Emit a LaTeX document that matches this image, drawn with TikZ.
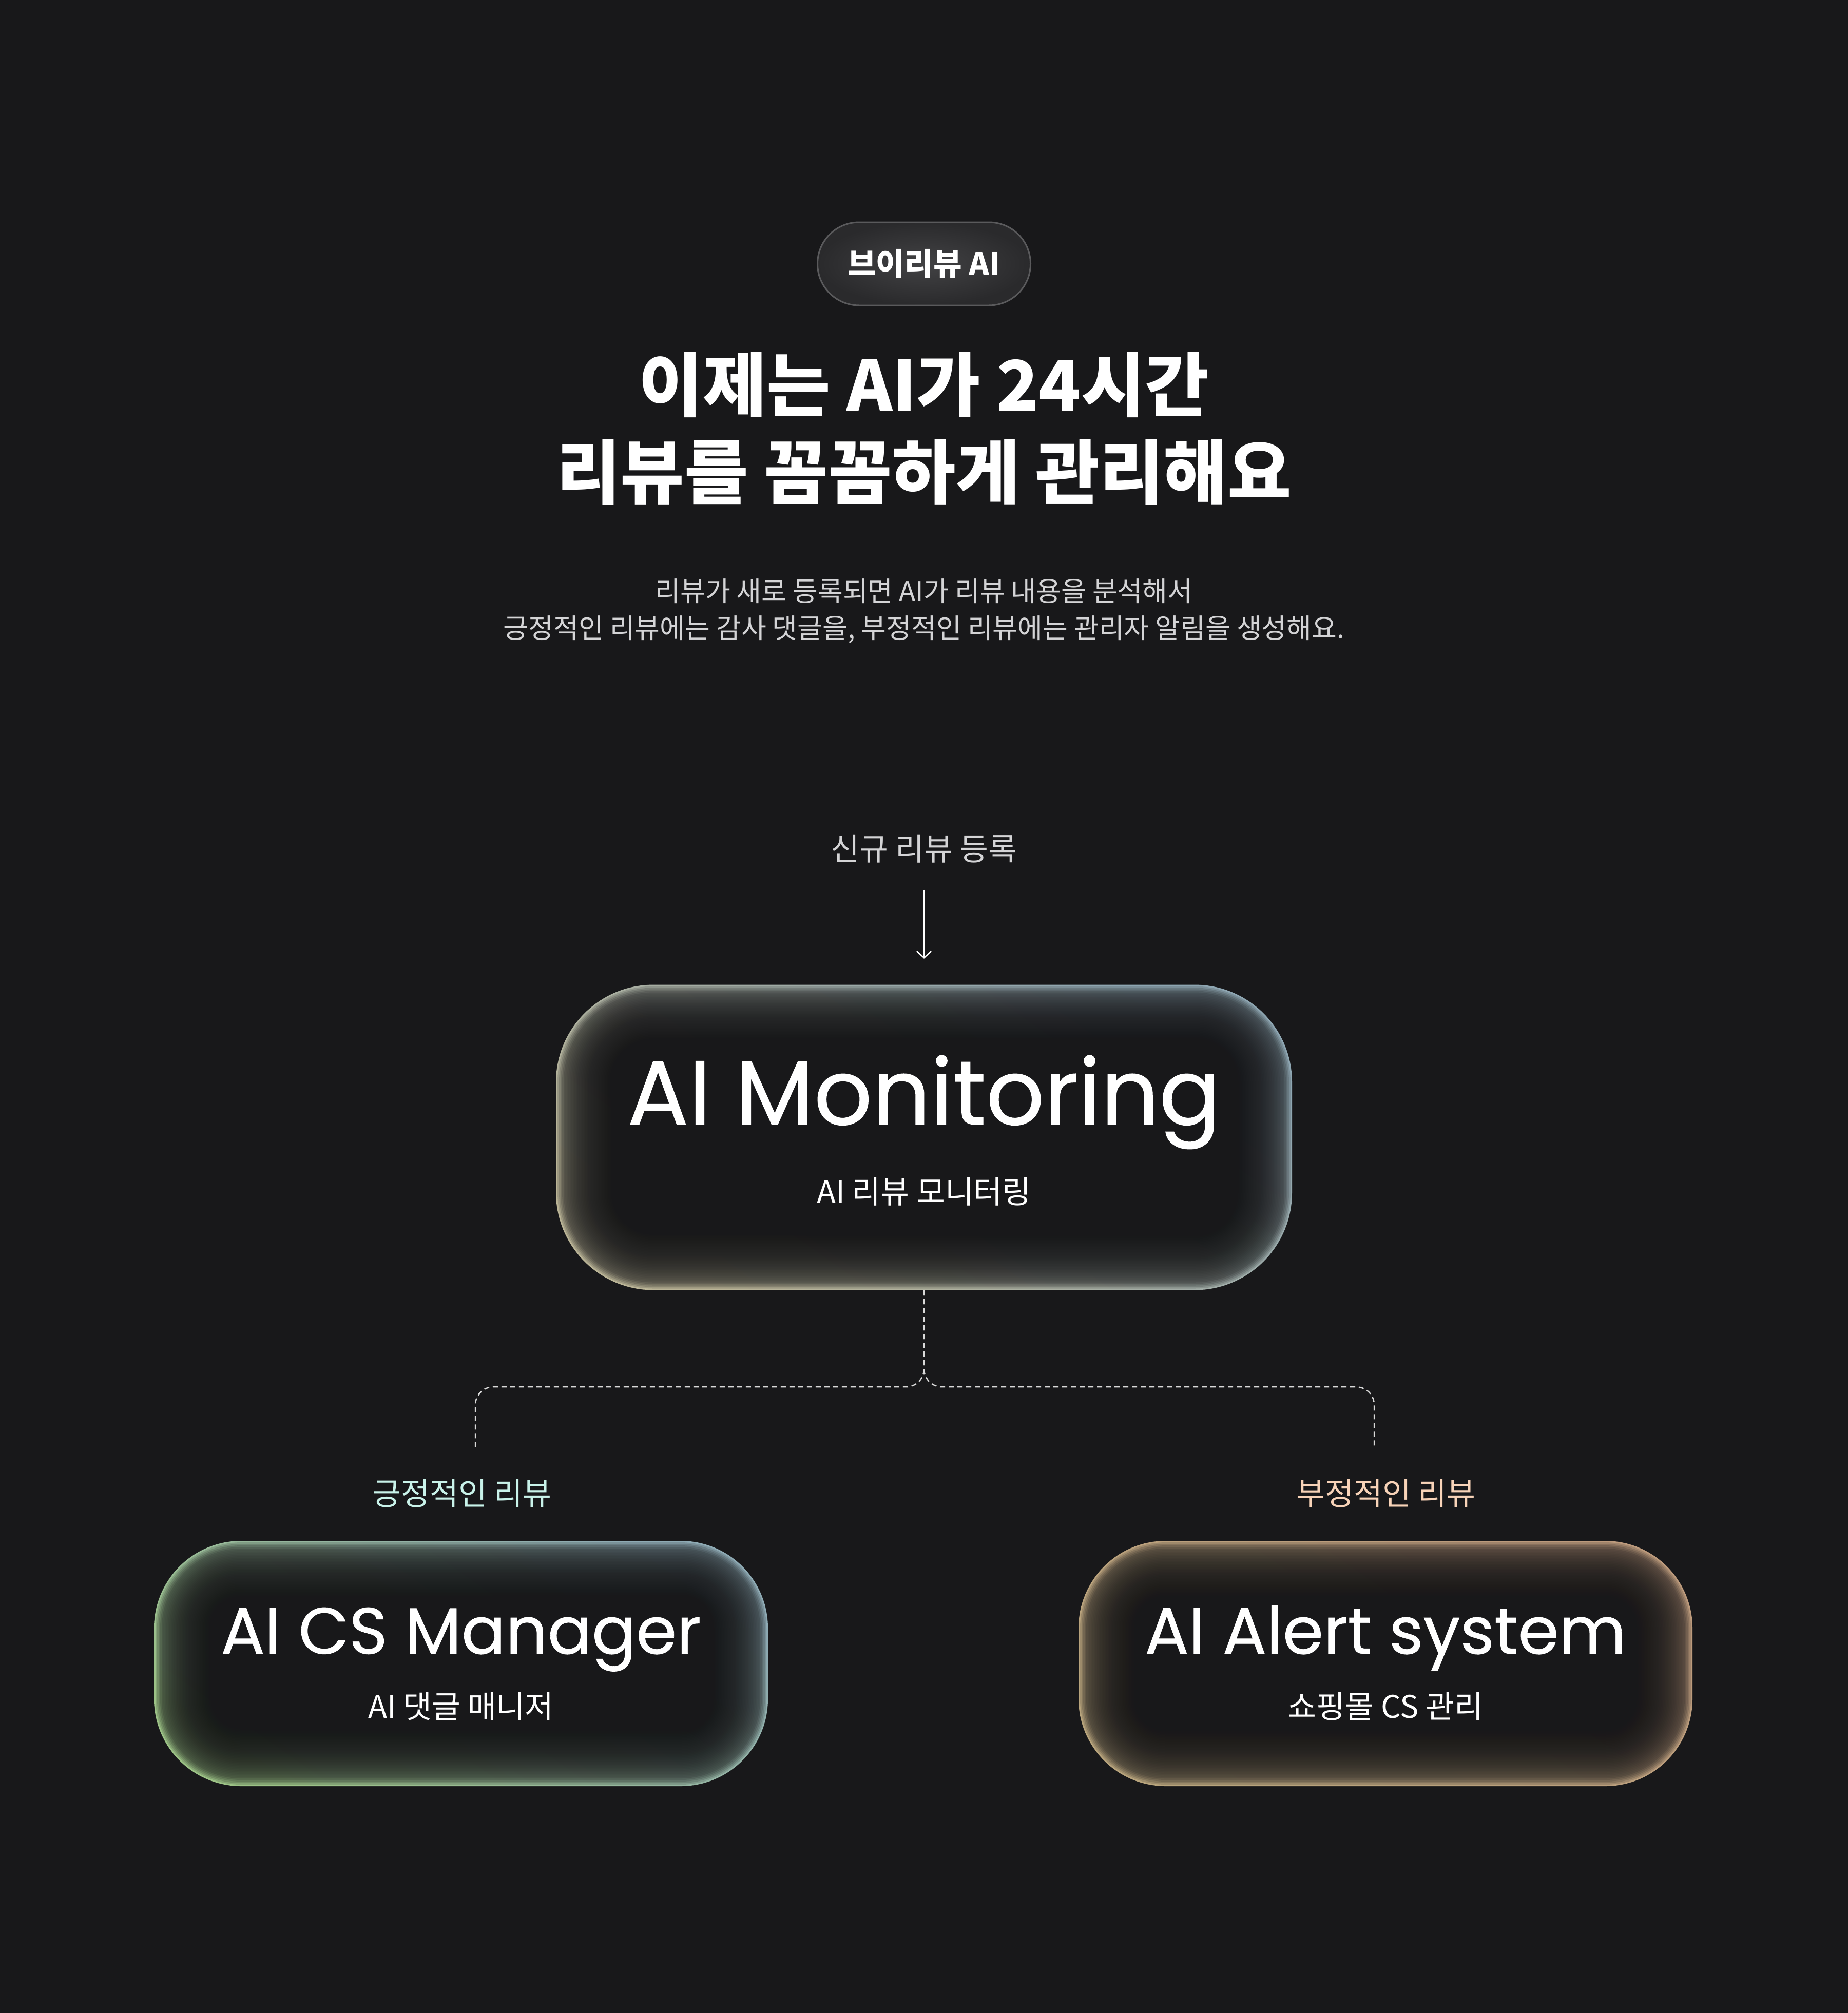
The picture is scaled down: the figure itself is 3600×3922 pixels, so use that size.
\documentclass[tikz,border=0pt]{standalone}
\usepackage{fontspec}
\setmainfont{Noto Sans CJK KR}
\newfontfamily\widefont[FakeBold=0.6]{Poppins}
\newfontfamily\headfont{Noto Sans CJK KR}
\usetikzlibrary{arrows.meta,calc,positioning}

\definecolor{bgcol}{HTML}{18181A}
\definecolor{subgray}{HTML}{D4D4D6}
\definecolor{badgeA}{HTML}{424244}
\definecolor{badgeB}{HTML}{2A2A2C}
\definecolor{badgeline}{HTML}{5A5A5C}
\definecolor{monA}{HTML}{8EA6B2}
\definecolor{monB}{HTML}{BAB496}
\definecolor{posA}{HTML}{8EAAB4}
\definecolor{posB}{HTML}{9CC286}
\definecolor{negA}{HTML}{BC9A7C}
\definecolor{negB}{HTML}{B8A47C}
\definecolor{posText}{HTML}{C9F3EA}
\definecolor{negText}{HTML}{F8D3B8}

\begin{document}
\begin{tikzpicture}[x=0.1mm, y=-0.1mm,
  badge/.style={rectangle, rounded corners=8.1mm, minimum width=41.5mm, minimum height=16.2mm,
    draw=badgeline, line width=0.3mm, inner color=badgeA, outer color=badgeB,
    text=white, font=\bfseries\fontsize{17.2pt}{19pt}\selectfont},
  card/.style 2 args={rectangle, inner sep=0pt, minimum width=#1, minimum height=#2},
  glow/.style n args={4}{rounded corners=#1, path picture={
    \shade[top color=#2, bottom color=#3, shading angle=#4]
      (path picture bounding box.south west) rectangle (path picture bounding box.north east);
    \foreach \k [evaluate=\k as \op using {ifthenelse(\k<6,0.17,0.065)}] in {1,...,44}
      \fill[bgcol, fill opacity=\op, rounded corners={#1-\k*0.3mm}]
        ($(path picture bounding box.south west)+(\k*0.3mm,\k*0.3mm)$) rectangle
        ($(path picture bounding box.north east)-(\k*0.3mm,\k*0.3mm)$);
  }},
  bigname/.style={text=white, anchor=base, inner sep=0pt, font=\widefont\fontsize{#1}{#1}\selectfont},
  small/.style={text=white, font=\fontsize{17.3pt}{19pt}\selectfont},
  flow/.style={draw=white, line width=0.25mm, -{Straight Barb[length=1.3mm, width=2.8mm]}},
  branch/.style={draw=white!85!black, line width=0.25mm, dash pattern=on 1mm off 0.7mm, rounded corners=3.5mm}]

\path[use as bounding box, fill=bgcol] (0,0) rectangle (3600,3922);

\node[badge] (tag) at (1800,514) {브이리뷰 AI};

\node[text=white, align=center, font=\headfont\bfseries\fontsize{38.5pt}{48.4pt}\selectfont] (head) at (1800,835)
  {이제는 AI가 24시간\\리뷰를 꼼꼼하게 관리해요};

\node[text=subgray, align=center, font=\fontsize{15.1pt}{20.5pt}\selectfont] (lead) at (1800,1191)
  {리뷰가 새로 등록되면 AI가 리뷰 내용을 분석해서\\긍정적인 리뷰에는 감사 댓글을, 부정적인 리뷰에는 관리자 알림을 생성해요.};

\node[small, text=subgray] (newrev) at (1800,1654) {신규 리뷰 등록};

% monitoring card
\node[card={143.4mm}{59.5mm}, glow={19mm}{monA}{monB}{-35}] (monitor) at (1800,2216) {};
\node[bigname=50.5pt] (monitorT) at ([yshift=2.5mm]monitor.center) {AI Monitoring};
\node[small] (monitorS) at (1800,2322) {AI 리뷰 모니터링};

\node[card={119.6mm}{47.8mm}, glow={17mm}{posA}{posB}{-35}] (csmgr) at (898,3241) {};
\node[bigname=36.3pt] (csmgrT) at ([yshift=1.9mm]csmgr.center) {AI CS Manager};
\node[small] (csmgrS) at (898,3325) {AI 댓글 매니저};

\node[card={119.6mm}{47.8mm}, glow={17mm}{negA}{negB}{-35}] (alert) at (2699,3241) {};
\node[bigname=36.3pt] (alertT) at ([yshift=1.9mm]alert.center) {AI Alert system};
\node[small] (alertS) at (2699,3325) {쇼핑몰 CS 관리};

\node[small, text=posText] (poslbl) at (900,2910) {긍정적인 리뷰};
\node[small, text=negText] (neglbl) at (2700,2910) {부정적인 리뷰};

\coordinate (posend) at (926,2822);
\coordinate (negend) at (2677,2822);

\draw[flow, shorten <=4mm, shorten >=5mm] (newrev.south) -- (monitor.north);
\draw[branch] (monitor.south) -- ++(0,188) -| (posend);
\draw[branch] (monitor.south) -- ++(0,188) -| (negend);

\end{tikzpicture}
\end{document}
